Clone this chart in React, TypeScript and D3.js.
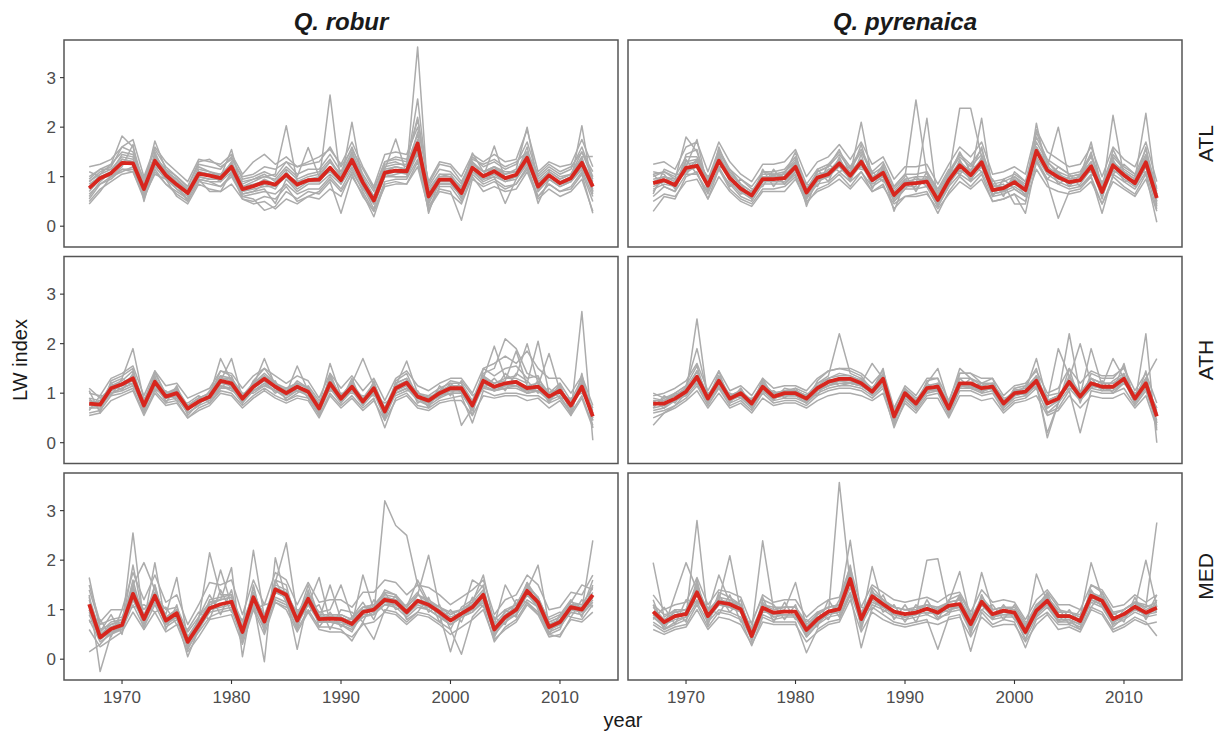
import React from "react";
import * as d3 from "d3";

// ---------- DATA ----------
const FIRST_YEAR = 1967;
const LAST_YEAR = 2013;
const years: number[] = d3.range(FIRST_YEAR, LAST_YEAR + 1);
const species = ["Q. robur", "Q. pyrenaica"];
const regions = ["ATL", "ATH", "MED"];
const yTicks = [0, 1, 2, 3];
const xTicks = [1970, 1980, 1990, 2000, 2010];

// mean chronologies (red)
const meanRoburATL = [0.77,0.97,1.07,1.28,1.27,0.75,1.32,1.03,0.84,0.67,1.06,1.02,0.97,1.2,0.75,0.81,0.89,0.84,1.04,0.84,0.93,0.94,1.18,0.93,1.34,0.88,0.52,1.08,1.12,1.11,1.67,0.6,0.94,0.94,0.67,1.18,1.01,1.11,0.97,1.04,1.38,0.8,1.03,0.87,0.97,1.28,0.8];
const meanPyrATL = [0.87,0.93,0.83,1.18,1.22,0.82,1.32,0.97,0.76,0.62,0.95,0.95,0.97,1.2,0.68,0.98,1.05,1.27,1.02,1.3,0.93,1.08,0.63,0.85,0.87,0.9,0.53,0.93,1.23,1.03,1.29,0.73,0.77,0.89,0.73,1.52,1.13,0.99,0.89,0.93,1.21,0.69,1.23,1.03,0.87,1.29,0.57];
const meanRoburATH = [0.79,0.77,1.1,1.18,1.3,0.75,1.23,0.93,1.0,0.69,0.83,0.93,1.25,1.2,0.89,1.13,1.29,1.13,1.0,1.13,1.03,0.69,1.2,0.89,1.13,0.83,1.1,0.63,1.1,1.21,0.93,0.85,1.0,1.1,1.1,0.75,1.25,1.13,1.2,1.23,1.1,1.13,0.93,1.05,0.75,1.13,0.53];
const meanPyrATH = [0.79,0.79,0.89,1.03,1.33,0.89,1.25,0.89,1.0,0.79,1.13,0.93,1.0,1.0,0.89,1.1,1.23,1.29,1.29,1.2,1.03,1.29,0.53,1.0,0.79,1.1,1.13,0.69,1.2,1.2,1.1,1.13,0.79,1.0,1.03,1.25,0.79,0.89,1.23,0.93,1.2,1.13,1.13,1.29,0.89,1.2,0.53];
const meanRoburMED = [1.11,0.44,0.61,0.69,1.32,0.81,1.28,0.78,0.93,0.35,0.68,1.03,1.11,1.16,0.55,1.25,0.76,1.41,1.3,0.78,1.22,0.81,0.82,0.81,0.71,0.95,1.0,1.2,1.16,0.95,1.18,1.1,0.95,0.78,0.92,1.05,1.3,0.6,0.85,1.0,1.38,1.15,0.65,0.75,1.05,1.0,1.3];
const meanPyrMED = [0.96,0.75,0.87,0.91,1.35,0.87,1.15,1.11,1.01,0.47,1.04,0.94,0.96,0.96,0.59,0.81,0.96,1.01,1.62,0.81,1.27,1.11,0.96,0.91,0.94,1.02,0.94,1.08,1.11,0.71,1.16,0.91,0.98,0.94,0.55,0.98,1.18,0.87,0.87,0.77,1.28,1.18,0.81,0.91,1.06,0.94,1.04];

// individual tree series (grey)
const treesRoburATL = [
  [.6,.9,1.1,1.45,1.4,.6,1.5,1.0,.75,.55,1.1,1.05,.9,1.3,.65,.7,.85,.75,1.1,.8,.95,.9,2.65,.85,1.5,.8,.35,1.1,1.2,1.15,3.62,.45,.9,.95,.55,1.3,1.0,1.2,.95,1.05,1.6,.7,1.05,.85,.95,1.4,.65],
  [.9,1.1,1.2,1.6,1.5,.7,1.45,1.1,.95,.7,1.2,1.1,1.0,1.3,.85,.95,1.0,1.05,2.03,.9,1.0,1.05,1.3,1.05,1.5,1.0,.6,1.25,1.3,1.2,2.57,.7,1.0,1.0,.8,1.3,1.1,1.2,1.05,1.1,1.5,.9,1.1,.95,1.05,1.5,.95],
  [.75,1.05,1.25,1.82,1.6,.85,1.35,1.0,.8,.65,1.0,.95,.95,1.15,.7,.75,.8,.8,1.0,.75,.9,.95,1.1,.9,2.1,.85,.45,1.0,1.05,1.1,1.9,.55,.95,.9,.6,1.15,.95,1.05,.9,1.0,1.3,.75,1.0,.85,.9,2.03,.7],
  [.5,.75,.9,1.05,1.1,.55,1.1,.85,.65,.5,.9,.85,.8,1.0,.6,.55,.32,.4,.7,.55,.7,.65,.9,.26,1.0,.65,.19,.85,.9,.85,1.3,.4,.75,.7,.12,.95,.8,.9,.75,.85,1.15,.6,.85,.7,.75,1.05,.26],
  [.85,1.0,1.1,1.35,1.3,.8,1.72,1.15,.9,.75,1.1,1.05,1.05,1.25,.8,.9,1.0,.95,1.2,1.0,1.59,1.0,1.3,1.0,1.4,.95,.6,1.2,1.25,1.25,1.85,.65,1.05,1.0,.75,1.25,1.1,1.15,1.05,1.15,2.0,.85,1.1,.95,1.05,1.35,.9],
  [.7,.95,1.05,1.3,1.25,.7,1.25,1.05,.85,.65,1.05,1.05,1.0,1.55,.7,.8,.95,.85,1.05,.9,.95,1.0,1.2,.95,1.25,.9,.5,1.15,1.76,1.05,1.6,.26,.95,.95,.7,1.2,1.0,1.62,.95,1.0,1.35,.8,1.0,.9,1.0,1.25,.85],
  [1.0,1.15,1.15,1.4,1.35,.9,1.4,1.1,.85,.5,1.15,1.1,1.05,1.25,.9,.95,1.05,.9,1.15,.95,1.05,1.1,1.35,1.0,1.45,.95,.6,1.15,1.2,1.15,1.75,.75,1.05,1.05,.75,1.48,1.1,1.2,1.1,1.1,1.45,.95,1.15,1.0,1.05,1.4,1.41],
  [.65,.85,1.0,1.15,1.15,.65,1.2,.95,.75,.6,.95,.9,.9,1.1,.65,.7,.75,.46,.95,.7,.85,.85,1.05,.85,1.2,.8,.45,1.0,1.0,1.0,1.5,.5,.85,.85,.6,1.1,.9,1.0,.46,.95,1.25,.46,.95,.8,.9,1.15,.6],
  [.8,1.0,1.0,1.2,1.65,.5,1.3,.95,.8,.7,1.0,.95,.95,1.15,.8,.85,.9,.85,1.0,.85,.9,.9,1.15,.9,1.3,.9,.55,1.05,1.1,1.05,1.55,.6,.9,.9,.65,1.15,1.0,1.05,.95,1.0,1.35,.8,1.0,.85,.95,1.25,.75],
  [.95,1.15,1.25,1.5,1.45,.95,1.55,1.2,1.0,.8,1.25,1.2,1.15,1.4,.95,1.0,1.1,1.0,1.3,1.05,1.15,1.15,1.45,1.1,1.6,1.05,.7,1.3,1.35,1.3,2.2,.8,1.15,1.1,.85,1.4,1.2,1.3,1.15,1.25,1.7,1.0,1.2,1.05,1.15,1.6,1.0],
  [.45,.7,1.0,1.1,1.2,.6,1.05,.95,.6,.45,.85,.75,.7,1.1,.55,.5,.6,.55,.8,.5,.6,.7,.95,.7,1.05,.6,.3,.8,.85,.85,1.2,.35,.7,.65,.45,1.0,.7,.8,.7,.75,1.1,.55,.75,.6,.7,.95,.3],
  [1.2,1.25,1.35,1.6,1.75,1.0,1.6,1.3,1.1,.9,1.35,1.3,1.25,1.45,1.05,1.3,1.45,1.25,1.4,1.2,1.3,1.4,1.55,1.25,1.7,1.2,.8,1.45,1.5,1.45,2.0,.9,1.3,1.25,1.0,1.45,1.3,1.45,1.3,1.35,1.95,1.1,1.3,1.2,1.25,1.75,1.2],
  [.9,1.05,1.15,1.25,1.3,.85,1.2,1.1,.95,.75,.95,.7,.7,.85,.55,.45,.5,.35,.55,.45,.6,.55,.75,.6,1.1,.75,.45,1.05,1.0,1.0,1.45,.55,.85,.85,.6,1.1,.95,1.0,.9,.95,1.3,.7,.95,.8,.9,1.2,.7],
  [1.1,1.0,1.05,1.35,1.3,.95,1.4,1.15,1.0,.8,1.3,1.35,1.2,1.35,1.0,1.05,1.2,1.15,1.3,1.2,1.25,1.3,1.6,1.2,1.55,1.15,.75,1.3,1.4,1.35,2.15,.85,1.25,1.2,.9,1.35,1.25,1.35,1.2,1.3,1.5,1.05,1.25,1.1,1.2,1.5,1.1],
  [.55,.85,.95,1.15,1.1,.6,1.15,.85,.7,.55,.95,.9,.8,1.05,.6,.65,.7,.65,.85,.65,.75,.75,1.0,.75,1.15,.7,.3,.9,.95,.95,1.35,.3,.8,.8,.5,1.05,.85,.95,.8,.85,1.2,.6,.85,.7,.8,1.1,.5],
];
const treesPyrATL = [
  [.3,.6,.55,1.0,1.1,.55,1.15,.75,.55,.45,.75,.75,.8,1.0,.45,.75,.85,1.05,.8,1.1,.7,.85,.35,.6,.65,.7,.26,.7,1.0,.8,1.05,.5,.55,.65,.26,1.3,.9,.16,.7,.75,1.0,.45,1.0,.8,.65,1.05,.08],
  [1.0,1.1,.95,1.8,1.5,.9,1.5,1.1,.85,.7,1.05,1.05,1.1,1.35,.75,1.1,1.2,1.45,1.15,1.5,1.05,1.2,.75,1.0,2.55,1.05,.65,1.05,1.4,1.2,1.45,.85,.9,1.0,.85,1.7,1.3,1.1,1.0,1.05,1.4,.8,1.4,1.15,1.0,1.45,.7],
  [.9,1.0,.9,1.3,1.35,.85,1.45,1.0,.8,.65,1.0,1.0,1.0,1.3,.7,1.0,1.1,1.35,1.05,2.1,.95,1.15,.65,.9,.95,.95,.55,1.0,2.38,2.38,1.4,.8,.8,.95,.8,1.6,1.2,1.05,.95,1.0,1.3,.75,1.3,1.1,.95,2.28,.6],
  [.75,.85,.8,1.2,1.75,.75,1.3,.95,.7,.55,.9,.9,.9,1.15,.6,.9,1.0,1.2,.95,1.25,.85,1.0,.55,.8,.8,2.18,.45,.85,1.15,.95,1.2,.65,.7,.8,.65,2.08,1.05,.9,.8,.85,1.15,.6,1.15,.95,.8,1.2,.45],
  [.85,.95,.85,1.1,1.2,.8,1.35,1.0,.75,.6,.95,1.0,.95,1.25,.4,1.0,1.05,1.3,1.0,1.3,.9,1.05,.6,.85,.85,.9,.5,.9,1.2,1.0,2.18,.7,.75,.85,.7,1.5,1.1,1.0,.85,.9,1.2,.65,2.24,1.0,.85,1.3,.55],
  [.95,1.0,.9,1.25,1.3,.9,1.4,1.05,.85,.7,1.0,1.0,1.05,1.25,.75,1.05,1.1,1.3,1.1,1.35,1.0,1.1,.3,.9,.9,.95,.6,1.0,1.3,1.1,1.35,.8,.85,.45,.45,1.55,1.2,2.0,.95,1.0,1.7,.75,1.3,1.1,.95,1.35,.65],
  [1.05,1.1,1.0,1.4,1.4,.95,1.55,1.15,.95,.8,1.1,1.1,1.15,1.4,.85,1.15,1.25,1.5,1.2,1.55,1.1,1.3,.8,1.05,1.05,1.1,.7,1.1,1.45,1.25,1.55,.9,.95,1.05,.9,1.8,1.35,1.2,1.05,1.1,1.45,.85,1.45,1.2,1.05,1.55,.75],
  [.6,.8,.7,1.05,1.05,.7,1.15,.85,.6,.5,.85,.85,.85,1.05,.55,.85,.9,1.1,.9,1.1,.8,.95,.5,.75,.75,.8,.4,.8,1.05,.9,1.1,.6,.65,.75,.6,1.3,.95,.85,.75,.8,1.0,.26,1.05,.9,.75,1.1,.35],
  [.8,.9,.8,1.15,1.2,.8,1.3,.95,.75,.6,.95,.95,.95,1.2,.7,.95,1.0,1.25,1.0,1.25,.9,1.05,.65,.85,.85,.9,.55,.95,1.25,1.0,1.25,.7,.75,.9,.75,1.5,1.1,.95,.9,.95,1.2,.7,1.2,1.0,.85,1.25,.5],
  [1.1,1.05,.75,1.45,1.55,.7,1.6,1.05,.7,.55,1.1,1.05,1.05,1.5,.6,1.1,1.2,1.55,1.05,1.65,.9,1.25,.55,.95,1.0,1.0,.4,1.0,1.5,1.1,1.6,.65,.7,.95,.6,1.9,1.3,1.05,.9,.95,1.5,.6,1.55,1.1,.85,1.6,.4],
  [.5,.65,.6,.9,.95,.55,1.0,.7,.5,.4,.7,.7,.7,.95,.5,.7,.8,.95,.75,1.0,.7,.8,.45,.6,.6,.65,.35,.65,.9,.75,.95,.5,.55,.65,.5,1.15,.8,.7,.65,.7,.9,.45,.9,.75,.6,.95,.3],
  [1.25,1.3,1.15,1.6,1.7,1.1,1.7,1.3,1.05,.9,1.25,1.25,1.3,1.55,1.0,1.3,1.4,1.65,1.35,1.7,1.25,1.4,.95,1.2,1.2,1.25,.85,1.25,1.6,1.4,1.7,1.05,1.1,1.2,1.05,1.95,1.5,1.35,1.2,1.25,1.6,1.0,1.6,1.35,1.2,1.7,.9],
  [.65,1.15,1.05,1.05,1.3,1.0,1.2,.8,.95,.75,.8,1.15,.85,1.1,.85,.8,1.25,1.1,1.2,1.15,1.1,.9,.8,1.05,.7,1.1,.75,1.15,1.05,1.25,1.1,.95,.6,1.1,.9,1.35,.95,1.2,1.05,.8,1.05,.9,1.05,1.25,1.05,1.1,.8],
  [1.05,.8,.7,1.35,1.05,.65,1.2,1.15,.85,.55,1.15,.8,1.1,1.3,.55,1.15,.9,1.4,.9,1.45,.75,1.2,.5,.75,1.0,.8,.4,.8,1.35,.9,1.4,.6,.95,.75,.6,1.6,1.25,.85,1.0,1.05,1.3,.55,1.35,.9,.95,1.4,.5],
  [.7,1.0,.95,1.1,1.35,.95,1.45,.9,.65,.7,.9,1.05,.85,1.1,.8,.9,1.15,1.2,1.1,1.2,1.0,1.0,.7,.95,.75,1.0,.6,1.05,1.1,1.15,1.2,.85,.7,1.0,.8,1.4,1.05,1.1,.8,1.05,1.1,.8,1.1,1.1,.8,1.2,.65],
];
const treesRoburATH = [
  [.7,.7,1.0,1.1,1.2,.65,1.15,.85,.9,.6,.75,.85,1.15,1.1,.8,1.05,1.2,1.05,.9,1.05,.95,.6,1.1,.8,1.05,.75,1.0,.5,1.0,1.1,.85,.75,.9,1.0,1.0,.65,1.15,1.05,1.1,1.15,1.0,1.05,.85,.95,.6,2.65,.05],
  [.85,.8,1.2,1.3,1.9,.85,1.4,1.0,1.1,.75,.9,1.0,1.35,1.3,.95,1.2,1.4,1.2,1.1,1.2,1.1,.75,1.3,.95,1.2,.9,1.2,.7,1.2,1.3,1.0,.95,1.1,1.2,1.2,.85,1.4,1.5,2.1,1.9,1.4,1.3,1.0,1.2,.85,1.3,.6],
  [.75,.75,1.05,1.15,1.35,.7,1.2,.9,1.0,.65,.85,.95,1.7,1.25,.85,1.15,1.7,1.15,1.0,1.1,1.0,.7,1.2,.85,1.1,.8,1.05,.6,1.05,1.2,.9,.8,.95,1.1,1.1,.7,1.3,1.95,1.3,1.3,1.2,2.05,1.0,1.1,.7,1.2,.5],
  [.6,.65,.95,1.0,1.1,.6,1.05,.8,.85,.5,.7,.8,1.05,1.0,.75,.95,1.1,.95,.85,.95,.9,.55,1.0,.75,.95,.7,.9,.3,.9,1.0,.75,.7,.85,.9,.95,.4,1.05,.95,1.0,1.0,.95,.95,.8,.9,.6,.95,.35],
  [.9,.85,1.15,1.25,1.45,.8,1.3,1.0,1.05,.75,.9,1.0,1.3,1.3,.95,1.2,1.35,1.2,1.05,1.2,1.1,.75,1.6,.95,1.2,1.7,1.15,.7,1.15,1.65,1.0,.9,1.05,1.15,1.15,.8,1.35,1.2,1.3,1.35,2.0,1.2,1.0,1.1,.8,1.2,.6],
  [.8,.75,1.1,1.2,1.3,.75,1.25,.95,1.0,.7,.8,.9,1.25,1.7,.9,1.1,1.3,1.1,1.0,1.55,1.05,.7,1.2,.9,1.15,.85,1.1,.65,1.1,1.2,.95,.85,1.0,1.1,1.1,.75,1.25,1.15,1.2,1.25,1.1,1.15,1.8,1.05,.75,1.15,.55],
  [1.05,.6,1.25,1.35,1.5,.6,1.45,.95,1.1,.55,.8,.95,1.45,1.35,.8,1.25,1.5,1.2,1.0,1.25,1.1,.55,1.4,.85,1.3,.75,1.2,.45,1.25,1.4,.9,.75,1.05,1.25,1.2,.55,1.5,1.35,1.5,1.55,1.3,1.35,.85,1.2,.55,1.4,.3],
  [.7,.75,1.0,1.05,1.15,.75,1.1,.9,.95,.7,.8,.9,1.1,1.1,.85,1.05,1.15,1.05,.95,1.05,1.0,.75,1.1,.85,1.05,.85,1.0,.7,1.0,1.1,.9,.85,.95,1.0,1.0,.8,1.1,1.05,1.1,1.1,1.0,1.05,.9,1.0,.8,1.05,.65],
  [.85,.8,1.15,1.2,1.35,.8,1.3,.95,1.05,.7,.85,.95,1.3,1.25,.9,1.15,1.35,1.15,1.05,1.15,1.05,.65,1.25,.9,1.15,.8,1.15,.55,1.15,1.25,.95,.8,1.0,1.15,.35,.7,1.3,1.2,1.25,1.85,1.15,1.2,.95,1.1,.7,1.2,.45],
  [1.1,.9,1.1,1.15,1.25,.7,1.2,.9,.95,.65,.85,.9,1.2,1.15,.85,1.1,1.25,1.1,.95,1.1,1.0,.65,1.15,.85,1.1,.8,1.05,.6,1.05,1.15,.9,.8,.95,1.05,1.05,.7,1.2,1.1,1.15,1.2,1.05,1.1,.9,1.0,.7,1.1,.5],
  [.55,.6,.85,.95,1.05,.55,1.0,.75,.8,.5,.65,.75,1.0,.95,.7,.9,1.05,.9,.8,.9,.85,.5,.95,.7,.9,.65,.85,.45,.85,.95,.7,.65,.8,.85,.85,.55,.95,.9,.95,.95,.85,.9,.7,.85,.55,.9,.3],
  [1.0,.95,1.3,1.4,1.55,.95,1.45,1.15,1.2,.9,1.0,1.1,1.45,1.4,1.1,1.35,1.5,1.35,1.2,1.35,1.25,.9,1.4,1.1,1.35,1.05,1.3,.85,1.3,1.45,1.15,1.05,1.2,1.3,1.3,1.0,1.5,1.6,1.75,1.6,1.85,1.5,1.3,1.3,1.0,1.35,.75],
  [.65,.95,.95,1.3,1.15,.9,1.05,1.05,.85,.8,.95,.8,1.1,1.3,1.0,1.0,1.15,1.25,.85,1.0,1.15,.85,1.05,1.0,1.0,.95,.95,.8,.95,1.05,1.05,.7,1.15,.95,1.25,.95,1.1,1.3,1.05,1.4,1.25,1.0,1.1,.9,.9,1.0,.7],
  [.9,.65,1.2,1.05,1.4,.65,1.35,.8,1.15,.6,.75,1.05,1.35,1.1,.8,1.25,1.25,1.0,1.1,1.2,.9,.6,1.35,.8,1.25,.75,1.25,.55,1.2,1.3,.8,.95,.9,1.2,1.0,.65,1.35,1.05,1.4,1.2,1.0,1.25,.8,1.15,.65,1.25,.45],
  [.75,.85,1.0,1.1,1.2,.8,1.15,1.0,.9,.75,.9,.85,1.15,1.05,.95,1.05,1.2,1.05,1.05,1.05,1.1,.8,1.1,.95,1.05,.9,1.0,.7,1.0,1.1,1.0,.9,.95,1.05,1.05,.8,1.15,1.05,1.15,1.15,1.05,1.05,.95,1.0,.85,1.05,.7],
];
const treesPyrATH = [
  [.35,.6,.75,1.0,2.5,.85,1.3,.85,.95,.7,1.1,.9,.95,.95,.8,1.05,1.2,1.3,1.25,1.15,1.0,1.25,.4,.95,.7,1.05,1.1,.6,1.15,1.15,1.05,1.1,.7,.95,1.0,1.2,.7,.85,1.2,.85,1.15,1.1,1.1,1.25,.8,1.15,.35],
  [.9,.85,1.0,1.15,1.9,.95,1.35,.95,1.05,.85,1.2,1.0,1.05,1.05,.95,1.2,1.35,2.2,1.4,1.3,1.1,1.35,.6,1.05,.85,1.15,1.2,.75,1.3,1.3,1.15,1.2,.85,1.05,1.1,1.35,.85,.95,2.2,1.0,1.3,1.2,1.2,1.35,.95,1.3,.6],
  [.7,.75,.85,1.0,1.3,.85,1.2,.85,.95,.75,1.05,.9,.95,.95,.85,1.05,1.15,1.25,1.2,1.15,1.0,1.2,.5,.95,.75,1.05,1.1,.65,1.15,1.15,1.05,1.1,.75,.95,1.0,1.2,.1,.8,1.3,2.0,1.2,1.1,1.1,1.3,.8,2.2,.0],
  [.85,.85,.95,1.1,1.45,.95,1.3,.95,1.05,.85,1.2,1.0,1.05,1.05,.95,1.15,1.3,1.35,1.35,1.25,1.1,1.35,.6,1.05,.85,1.2,1.5,.8,1.5,1.3,1.2,1.2,.85,1.05,1.1,1.3,.85,1.9,1.35,1.0,1.3,1.2,1.2,1.35,.95,1.3,1.7],
  [.6,.65,.75,.9,1.15,.75,1.1,.75,.85,.65,1.0,.8,.85,.85,.75,.95,1.05,1.1,1.1,1.05,.9,1.1,.3,.85,.65,.95,1.0,.55,1.05,1.05,.95,1.0,.65,.85,.9,1.1,.6,.7,1.05,.2,1.05,1.0,1.0,1.1,.75,1.05,.4],
  [.8,.8,.9,1.05,1.35,.9,1.25,.9,1.0,.8,1.15,.95,1.0,1.0,.9,1.1,1.25,1.3,1.3,1.2,1.6,1.3,.55,1.0,.8,1.1,1.15,.7,1.2,1.2,1.1,1.15,.8,1.0,1.05,1.25,.8,.9,1.25,.95,1.9,1.15,1.7,1.3,.9,1.2,.55],
  [.75,.9,1.0,1.15,1.55,.8,1.45,.8,1.1,.7,1.3,.9,1.05,1.1,.8,1.25,1.45,1.5,1.45,1.35,1.05,1.5,.4,1.1,.7,1.25,1.3,.55,1.4,1.4,1.2,1.3,.7,1.1,1.15,1.5,.6,.8,1.5,.8,1.4,1.3,1.3,1.55,.8,1.45,.25],
  [.8,.8,.9,1.05,1.3,.9,1.25,.9,1.0,.8,1.1,.95,1.0,1.0,.9,1.1,1.2,1.25,1.25,1.2,1.05,1.25,.55,1.0,.8,1.1,1.1,.7,1.2,1.2,1.1,1.1,.8,1.0,1.05,1.25,.8,.9,1.2,.95,1.2,1.1,1.1,1.25,.9,1.15,.6],
  [1.0,.9,.95,1.0,1.25,.95,1.2,.95,1.0,.85,1.1,.95,1.0,1.0,.95,1.05,1.15,1.25,1.2,1.15,1.05,1.2,.65,1.0,.85,1.05,1.1,.75,1.15,1.15,1.1,1.1,.85,1.0,1.05,1.7,.85,.95,1.2,1.0,1.15,1.1,1.1,1.2,.95,1.15,.7],
  [.65,.7,.85,.95,1.2,.8,1.15,.8,.9,.7,1.05,.85,.9,.9,.8,1.0,1.1,1.15,1.15,1.1,.95,1.15,.45,.9,.7,1.0,1.05,.6,1.1,1.1,1.0,1.05,.7,.9,.95,1.15,.2,.8,1.1,.85,1.1,1.05,1.05,1.6,.8,1.1,.45],
  [.5,.6,.7,.85,1.05,.7,1.0,.7,.8,.6,.9,.75,.8,.8,.7,.85,.95,1.0,1.0,.95,.85,1.0,.35,.8,.6,.9,.9,.5,.95,.95,.85,.9,.6,.8,.85,.95,.55,.65,.95,.7,.95,.9,.9,1.0,.7,.95,.3],
  [.95,1.0,1.1,1.25,1.6,1.05,1.45,1.05,1.15,.95,1.3,1.1,1.15,1.15,1.05,1.3,1.45,1.5,1.5,1.4,1.2,1.45,.7,1.15,.95,1.3,1.3,.85,1.4,1.4,1.3,1.3,.95,1.15,1.2,1.45,1.0,1.1,1.5,1.2,1.45,1.35,1.35,1.5,1.05,1.4,.8],
  [.7,.95,.8,1.15,1.2,1.0,1.1,1.0,.9,.9,1.0,1.05,.9,1.1,1.0,.95,1.3,1.15,1.2,1.3,.95,1.15,.7,1.1,.9,1.0,1.2,.8,1.1,1.3,1.0,1.2,.9,.95,1.15,1.1,.95,1.0,1.1,1.05,1.1,1.25,1.0,1.2,1.0,1.1,.7],
  [.85,.7,1.0,.95,1.45,.8,1.35,.85,1.1,.75,1.25,.85,1.1,1.05,.85,1.2,1.3,1.4,1.35,1.25,1.1,1.4,.5,1.1,.75,1.2,1.05,.65,1.3,1.1,1.2,1.05,.75,1.1,.95,1.35,.7,.85,1.35,.85,1.3,1.05,1.25,1.4,.85,1.3,.4],
  [.75,.85,.95,1.1,1.25,.95,1.2,.95,1.0,.85,1.05,1.0,1.0,1.05,.95,1.05,1.15,1.2,1.2,1.15,1.0,1.2,.6,1.0,.85,1.05,1.05,.75,1.15,1.1,1.05,1.1,.85,1.0,1.0,1.15,.85,.95,1.15,1.0,1.15,1.1,1.05,1.2,.95,1.1,.65],
];
const treesRoburMED = [
  [1.3,-.25,.5,.65,2.55,.7,1.3,.7,.9,.3,.6,1.0,1.1,1.15,.5,1.2,.7,1.35,1.25,.7,1.15,.75,.75,.7,.6,.9,.9,3.2,2.7,2.5,1.5,1.1,.9,.7,.85,1.0,1.25,.55,.8,.95,1.3,1.1,.6,.7,1.0,.95,1.25],
  [1.65,.6,.7,.8,1.5,1.95,1.4,.85,1.0,.45,.8,2.15,1.3,1.3,.65,2.2,.85,1.55,2.35,.9,1.35,.9,.9,.9,.8,1.05,1.1,1.35,1.3,1.05,1.3,1.2,1.05,.9,1.0,1.15,1.4,.7,.95,1.1,1.5,1.25,.75,.85,1.15,1.1,1.45],
  [.15,.3,.55,.6,1.2,.75,1.95,.7,.85,.05,.6,.95,1.8,1.1,.45,1.15,-.05,2.05,1.2,.7,1.1,1.65,.75,.75,.65,.85,.95,1.1,1.1,.9,1.1,1.0,.85,.7,.85,.95,1.2,.5,.75,.9,1.3,1.05,.55,.65,.95,.9,1.2],
  [1.0,.5,.65,.75,1.4,.85,1.3,.9,1.65,.4,.75,1.1,1.2,1.85,.05,1.3,.8,1.45,1.35,.8,1.5,.85,.85,.85,.75,1.0,1.05,1.25,1.2,1.0,1.2,1.15,1.0,.85,.95,1.1,1.35,.65,.9,1.05,1.4,1.9,.7,.8,1.1,1.05,1.35],
  [.9,.4,.6,.7,1.9,.8,1.25,.75,.9,.35,.65,1.0,1.05,1.1,.6,1.2,.75,1.35,1.25,.2,1.2,.8,1.5,.8,.7,1.7,1.0,1.15,1.1,.95,1.15,1.05,.95,.8,.9,1.0,1.3,.6,.85,.95,1.35,1.1,.65,.75,1.0,1.0,2.4],
  [.8,.35,.5,.6,1.1,.65,1.1,.65,.8,.25,.55,.85,.95,1.0,.4,1.05,.6,1.2,1.1,.6,1.0,.65,.65,.6,.37,.75,.4,1.0,.95,.75,.95,.9,.75,.6,.1,.85,1.1,.35,.65,.8,1.15,.95,.5,.45,.85,.8,1.1],
  [1.2,.55,.75,.8,1.45,.9,1.35,.85,1.0,.45,.75,1.15,1.2,1.25,.65,1.35,.85,1.5,1.4,.85,1.3,.9,.9,.9,.8,1.05,1.1,1.3,1.25,1.05,1.3,2.1,1.05,.9,1.0,1.15,1.7,.7,1.5,1.1,1.45,1.25,.75,.85,1.15,1.5,1.4],
  [1.1,.45,.65,.7,1.6,.75,1.5,.7,.95,.2,.6,1.2,1.25,1.3,.35,1.45,.65,1.6,1.5,.65,1.35,.75,.75,.7,.55,.95,1.0,1.4,1.3,.9,1.3,1.15,.9,.15,.9,1.6,1.45,.45,.85,1.05,1.55,1.2,.5,.6,1.1,1.0,1.6],
  [1.0,.4,.55,.65,1.2,.75,1.15,.75,.85,.35,.65,.95,1.0,1.05,.55,1.1,.7,1.25,1.15,.75,1.1,.75,.75,.75,.65,.85,.9,1.1,1.05,.85,1.05,1.0,.85,.7,.85,.95,1.15,.55,.8,.9,1.2,1.05,.6,.7,.95,.9,1.15],
  [1.4,.7,.8,.85,1.35,1.0,1.3,1.0,1.05,.55,.85,1.15,1.2,1.25,.75,1.3,.9,1.4,1.3,.95,1.25,.95,1.0,1.5,.85,1.05,1.05,1.25,1.2,1.05,1.6,1.15,1.05,.95,1.0,1.1,1.3,.8,1.0,1.1,1.35,1.2,.8,.9,1.1,1.1,1.3],
  [.6,.25,.4,.55,.95,.6,.95,.55,.7,.15,.45,.8,.85,.9,.3,1.0,.5,1.15,1.0,.55,.95,.6,.55,.55,.45,.7,.75,.95,.9,.7,.9,.85,.7,.5,.65,.8,1.0,.4,.6,.75,1.1,.9,.45,.5,.8,.75,.95],
  [1.5,.75,1.0,1.0,1.75,1.2,1.7,1.15,1.3,.7,1.1,1.55,1.5,1.6,.9,1.6,1.1,1.75,1.6,1.1,1.55,1.15,1.2,1.2,1.05,1.35,1.35,1.6,1.55,1.3,1.5,1.45,1.3,1.1,1.25,1.4,1.6,.9,1.2,1.3,1.7,1.5,1.0,1.05,1.35,1.3,1.7],
  [.75,.8,.45,1.0,1.05,1.1,.95,1.05,.7,.6,.95,.8,1.4,.95,.8,1.0,1.1,1.15,1.05,1.0,.95,1.1,.6,1.0,.95,.75,1.2,.95,1.3,.8,.95,1.25,.75,1.0,.75,1.25,1.05,.85,.7,1.2,1.15,.9,.85,.95,.85,1.2,1.05],
  [1.25,.55,.9,.5,1.5,.6,1.5,.6,1.1,.25,.85,1.3,.9,1.4,.45,1.5,.55,1.6,1.15,.6,1.4,.65,.95,.65,.85,1.15,.8,1.35,1.0,1.1,1.35,.95,1.1,.6,1.05,1.2,1.5,.45,1.0,.85,1.55,1.0,.5,.9,1.2,.85,1.5],
  [.95,.5,.7,.75,1.25,.85,1.2,.8,.95,.4,.7,1.05,1.1,1.15,.6,1.2,.8,1.35,1.25,.8,1.2,.85,.85,.85,.75,.95,1.0,1.15,1.1,.95,1.15,1.05,.95,.8,.9,1.0,1.25,.65,.85,1.0,1.3,1.1,.7,.8,1.05,1.0,1.25],
];
const treesPyrMED = [
  [.9,.7,.8,.85,2.8,.8,1.1,1.05,.95,.45,1.0,.9,.9,.9,.55,.75,.9,3.57,1.5,.75,1.2,1.05,.9,.85,.9,.95,.9,1.0,1.05,.65,1.1,.85,.9,.9,.5,.9,1.1,.8,.8,.7,1.2,1.1,.75,.85,1.0,.9,1.0],
  [1.95,.85,1.0,1.0,1.5,.95,1.25,1.2,1.1,.6,2.39,1.0,1.05,1.05,.7,.9,1.05,1.1,2.4,.9,1.35,1.2,1.05,1.0,1.0,1.1,1.0,1.15,1.2,.8,1.25,1.0,1.05,1.0,.65,1.05,1.25,.95,.95,.85,1.35,1.25,.9,1.0,1.15,1.05,2.76],
  [.85,.65,1.3,1.95,1.4,.8,1.2,2.09,.95,.4,1.0,.85,.9,.9,.5,.75,.9,.95,1.7,.75,1.87,1.05,.9,.85,.9,2.0,2.03,1.0,1.05,.6,1.1,.85,.9,.9,.5,.9,1.1,.8,.8,.7,1.2,1.1,.75,.85,1.0,.9,.95],
  [.7,.55,.65,.7,1.1,.65,.95,.9,.8,.27,.85,.75,.75,.75,.13,.6,.75,.8,1.3,.23,1.05,.9,.75,.7,.75,.8,.2,.85,.9,.16,.95,.7,.8,.75,.23,.8,.95,.7,.7,.6,1.05,.95,.6,.7,.85,.75,.47],
  [1.05,.8,.95,1.0,1.45,.95,1.7,1.15,1.1,.55,1.1,1.0,1.05,1.05,.65,.9,1.05,1.1,1.75,.9,1.35,1.2,1.05,1.0,1.0,1.1,1.0,1.15,1.77,.8,1.75,1.0,1.05,1.0,.65,1.05,1.25,.95,.95,.85,1.95,1.25,.9,1.0,1.15,1.0,1.1],
  [.95,.75,.85,.9,1.3,.85,1.1,1.1,1.0,.5,1.0,.95,.95,.95,.6,.8,.95,1.0,1.55,.8,1.25,1.1,.95,.9,.95,1.0,.95,1.05,1.1,.7,1.15,.9,.95,.95,.55,1.72,1.15,.85,.85,.75,1.25,1.15,.8,.9,1.05,2.0,1.05],
  [1.2,.6,.75,.85,1.6,.7,1.35,1.25,1.1,.35,1.15,.85,.9,.9,.45,.7,.95,1.1,1.9,.65,1.45,1.2,.9,.85,.9,1.1,.8,1.2,1.3,.5,1.3,.85,.95,.9,.4,1.05,1.35,.75,.8,.6,1.5,1.35,.65,.85,1.15,.85,1.3],
  [.85,.7,.85,.9,1.2,.9,1.1,1.05,.95,.5,.95,.95,1.0,1.55,.65,.85,.95,.95,1.45,.85,1.15,1.05,.95,.9,.95,1.0,.95,1.05,1.05,.75,1.1,.9,.95,.95,.6,.95,1.1,.85,.85,.8,1.2,1.1,.8,.9,1.0,.95,1.0],
  [1.1,.9,.95,1.0,1.4,1.0,1.2,1.15,1.05,.6,1.1,1.05,1.05,1.05,.75,.95,1.05,1.1,1.6,.95,1.3,1.15,1.05,1.0,1.05,1.1,1.05,1.15,1.2,.85,1.2,1.0,1.05,1.05,.7,1.1,1.25,1.0,.95,.9,1.3,1.25,.95,1.0,1.15,1.05,1.15],
  [.75,.6,.7,.8,1.15,.75,1.0,.95,.85,.4,.9,.8,.85,.85,.45,.7,.85,.9,1.35,.7,1.1,1.0,.85,.8,.85,.9,.8,.95,1.0,.55,1.0,.8,.85,.85,.4,.85,1.05,.75,.75,.65,1.15,1.05,.7,.8,.95,.85,.9],
  [.6,.5,.6,.65,1.0,.6,.85,.8,.7,.3,.75,.7,.7,.7,.35,.55,.7,.75,1.2,.55,.95,.8,.7,.65,.7,.75,.7,.8,.85,.45,.85,.65,.7,.7,.35,.7,.9,.6,.65,.55,1.0,.9,.55,.65,.8,.7,.75],
  [1.3,1.0,1.1,1.15,1.65,1.1,1.4,1.35,1.25,.7,1.3,1.15,1.2,1.2,.85,1.05,1.2,1.25,1.85,1.05,1.5,1.35,1.2,1.15,1.2,1.25,1.15,1.3,1.35,.95,1.4,1.15,1.2,1.15,.8,1.2,1.4,1.1,1.1,1.0,1.5,1.4,1.05,1.1,1.3,1.15,1.3],
  [.8,1.05,.7,1.2,1.15,1.05,.9,1.3,.75,.75,1.25,.75,1.15,.8,.8,.65,1.2,.85,1.3,1.05,1.0,1.3,.8,1.1,.75,1.2,.85,.9,1.3,.9,1.0,1.1,.8,1.1,.75,.85,1.35,1.05,.7,1.0,1.05,1.35,.95,.75,1.25,.8,1.2],
  [1.1,.6,1.0,.75,1.55,.7,1.3,.95,1.2,.4,1.2,1.1,.8,1.1,.5,.95,.8,1.2,1.8,.6,1.4,.95,1.1,.75,1.1,.9,1.05,.95,1.25,.6,1.3,.8,1.1,.8,.6,1.1,1.3,.75,1.0,.7,1.4,1.05,.7,1.0,1.15,1.1,.95],
  [.9,.75,.9,.95,1.3,.9,1.15,1.1,1.0,.5,1.05,.95,.95,.95,.6,.85,.95,1.05,1.55,.85,1.25,1.1,.95,.9,.95,1.0,.95,1.1,1.1,.7,1.15,.9,1.0,.95,.55,1.0,1.2,.9,.9,.8,1.3,1.2,.85,.9,1.05,.95,1.05],
];

const meanTable = [
  [meanRoburATL, meanPyrATL],
  [meanRoburATH, meanPyrATH],
  [meanRoburMED, meanPyrMED],
];
const treeTable = [
  [treesRoburATL, treesPyrATL],
  [treesRoburATH, treesPyrATH],
  [treesRoburMED, treesPyrMED],
];

// ---------- LAYOUT ----------
const W = 1221;
const H = 738;
const colX = [64, 628];
const panelW = 554;
const rowY = [40, 256.5, 473];
const panelH = 207;
const FONT = "'Liberation Sans', Arial, Helvetica, sans-serif";
const GREY_TEXT = "#4d4d4d";
const BORDER = "#555555";

export default function App() {
  const x0 = d3.scaleLinear().domain([1964.7, 2015.3]).range([0, panelW]);
  const y0 = d3.scaleLinear().domain([-0.42, 3.76]).range([panelH, 0]);
  const line = d3
    .line<number>()
    .x((_, i) => x0(years[i]))
    .y((d) => y0(d));

  return (
    <svg width={W} height={H} style={{ display: "block", position: "absolute", left: 0, top: 0, background: "#fff" }} fontFamily={FONT}>
      <rect x={0} y={0} width={W} height={H} fill="#ffffff" />
      {species.map((s, c) => (
        <text key={s} x={colX[c] + panelW / 2} y={30} textAnchor="middle" fontSize={24} fontWeight="bold" fontStyle="italic" fill="#1a1a1a">
          {s}
        </text>
      ))}
      {regions.map((r, ri) => (
        <text
          key={r}
          transform={`translate(${1205},${rowY[ri] + panelH / 2}) rotate(-90)`}
          textAnchor="middle"
          dominantBaseline="central"
          fontSize={21}
          fill="#1a1a1a"
        >
          {r}
        </text>
      ))}
      {regions.map((r, ri) =>
        species.map((s, c) => {
          const trees = treeTable[ri][c];
          const mean = meanTable[ri][c];
          return (
            <g key={r + s} transform={`translate(${colX[c]},${rowY[ri]})`}>
              <rect x={0} y={0} width={panelW} height={panelH} fill="#ffffff" />
              <g fill="none" stroke="#acacac" strokeWidth={1.5} strokeLinejoin="round">
                {trees.map((t, k) => (
                  <path key={k} d={line(t) || ""} />
                ))}
              </g>
              <path d={line(mean) || ""} fill="none" stroke="#d7261e" strokeWidth={3.8} strokeLinejoin="round" />
              <rect x={0} y={0} width={panelW} height={panelH} fill="none" stroke={BORDER} strokeWidth={1.5} />
              {c === 0 &&
                yTicks.map((t) => (
                  <g key={t} transform={`translate(0,${y0(t)})`}>
                    <line x1={-4} x2={0} stroke="#333" strokeWidth={1.1} />
                    <text x={-8} dy="0.36em" textAnchor="end" fontSize={17} fill={GREY_TEXT}>
                      {t}
                    </text>
                  </g>
                ))}
              {ri === 2 &&
                xTicks.map((t) => (
                  <g key={t} transform={`translate(${x0(t)},${panelH})`}>
                    <line y1={0} y2={4} stroke="#333" strokeWidth={1.1} />
                    <text y={17} dy="0.36em" textAnchor="middle" fontSize={17} fill={GREY_TEXT}>
                      {t}
                    </text>
                  </g>
                ))}
            </g>
          );
        })
      )}
      <text transform={`translate(20,${360}) rotate(-90)`} textAnchor="middle" dominantBaseline="central" fontSize={20} fill="#1a1a1a">
        LW index
      </text>
      <text x={623} y={727} textAnchor="middle" fontSize={20} fill="#1a1a1a">
        year
      </text>
    </svg>
  );
}
